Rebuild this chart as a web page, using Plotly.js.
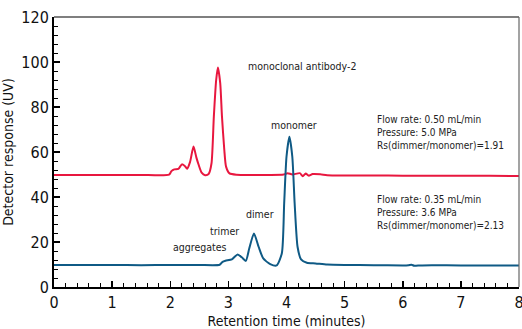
<!DOCTYPE html>
<html>
<head>
<meta charset="utf-8">
<script src="https://cdn.plot.ly/plotly-3.0.1.min.js"></script>
<style>
  html, body { margin: 0; padding: 0; background: #fff; }
  #chart { width: 522px; height: 329px; }
</style>
</head>
<body>
<div id="chart"></div>
<script>
// Chromatogram at 0.50 mL/min (offset baseline ~50)
const timeHigh = [0, 0.5, 1.0, 1.5, 1.98, 2.02, 2.07, 2.14, 2.20, 2.25, 2.29, 2.34, 2.40, 2.45, 2.49, 2.54, 2.60, 2.66, 2.71, 2.75, 2.79, 2.82, 2.86, 2.89, 2.93, 2.96, 3.02, 3.14, 3.4, 3.7, 3.95, 4.02, 4.1, 4.23, 4.28, 4.33, 4.38, 4.45, 4.58, 4.7, 5.0, 5.5, 6.0, 6.5, 7.0, 7.5, 8.0];
const respHigh = [49.8, 49.8, 49.8, 49.8, 49.9, 51.5, 52.3, 52.5, 54.5, 53.8, 52.6, 55.5, 62.4, 57.5, 54.2, 50.8, 49.7, 50.2, 55.0, 75.7, 92.0, 97.6, 90.5, 75.7, 60.9, 53.5, 50.5, 49.9, 49.8, 49.8, 50.0, 50.6, 50.0, 50.6, 49.2, 50.4, 49.5, 50.2, 50.1, 49.7, 49.6, 49.6, 49.5, 49.5, 49.4, 49.4, 49.3];

// Chromatogram at 0.35 mL/min (baseline ~10)
const timeLow = [0, 0.5, 1.0, 1.5, 2.0, 2.5, 2.85, 2.9, 2.95, 3.06, 3.16, 3.23, 3.30, 3.36, 3.44, 3.52, 3.60, 3.72, 3.83, 3.92, 3.96, 4.00, 4.05, 4.10, 4.14, 4.19, 4.25, 4.35, 4.5, 4.7, 5.0, 5.5, 6.0, 6.1, 6.15, 6.2, 6.3, 6.5, 7.0, 7.5, 8.0];
const respLow = [9.8, 9.8, 9.8, 9.7, 9.8, 9.8, 9.9, 11.2, 11.7, 12.3, 14.5, 13.2, 11.6, 17.2, 23.8, 17.9, 12.7, 10.2, 9.6, 15.0, 37.2, 57.9, 66.8, 57.9, 37.2, 17.9, 12.3, 10.8, 10.5, 10.0, 9.8, 9.7, 9.6, 9.7, 9.9, 9.4, 9.6, 9.7, 9.6, 9.6, 9.6];

// Axis ticks
const xTicks = [0, 1, 2, 3, 4, 5, 6, 7, 8];
const yTicks = [0, 20, 40, 60, 80, 100, 120];

// Text placed on the plot
const peakLabels = [
  { text: 'monoclonal antibody-2', x: 3.30, y: 98.2, anchor: 'left' },
  { text: 'monomer', x: 4.13, y: 72.2, anchor: 'center' },
  { text: 'dimer', x: 3.55, y: 32.4, anchor: 'center' },
  { text: 'trimer', x: 2.94, y: 24.9, anchor: 'center' },
  { text: 'aggregates', x: 2.51, y: 17.8, anchor: 'center' }
];
const conditionNotes = [
  { text: 'Flow rate: 0.50 mL/min<br>Pressure: 5.0 MPa<br>Rs(dimmer/monomer)=1.91', x: 5.52, y: 68.6 },
  { text: 'Flow rate: 0.35 mL/min<br>Pressure: 3.6 MPa<br>Rs(dimmer/monomer)=2.13', x: 5.52, y: 33.0 }
];

const FONT = '"DejaVu Sans Condensed", "Liberation Sans Narrow", Arial, sans-serif';

const traces = [
  {
    x: timeHigh, y: respHigh, type: 'scatter', mode: 'lines',
    line: { color: '#e8173f', width: 2, shape: 'spline', smoothing: 0.6 },
    hoverinfo: 'skip', cliponaxis: false
  },
  {
    x: timeLow, y: respLow, type: 'scatter', mode: 'lines',
    line: { color: '#0f5a85', width: 2, shape: 'spline', smoothing: 0.6 },
    hoverinfo: 'skip', cliponaxis: false
  }
];

const annotations = [];
peakLabels.forEach(p => annotations.push({
  x: p.x, y: p.y, xref: 'x', yref: 'y', text: p.text, showarrow: false,
  xanchor: p.anchor, yanchor: 'middle',
  font: { family: FONT, size: 10.5, color: '#222' }
}));
conditionNotes.forEach(n => annotations.push({
  x: n.x, y: n.y, xref: 'x', yref: 'y', text: n.text, showarrow: false,
  xanchor: 'left', yanchor: 'middle', align: 'left',
  font: { family: FONT, size: 10, color: '#222' }
}));

const layout = {
  width: 522, height: 329,
  margin: { l: 54, r: 3, t: 17, b: 42 },
  paper_bgcolor: '#fff', plot_bgcolor: '#fff',
  showlegend: false,
  xaxis: {
    range: [0, 8], tickvals: xTicks, ticktext: xTicks.map(String),
    ticklabeloverflow: 'allow',
    showgrid: false, zeroline: false,
    showline: true, linecolor: '#000', linewidth: 2,
    ticks: 'inside', ticklen: 6, tickwidth: 1.5, tickcolor: '#000',
    minor: { dtick: 0.2, ticks: 'inside', ticklen: 4, tickwidth: 1, tickcolor: '#000', showgrid: false },
    tickfont: { family: FONT, size: 16, color: '#111' },
    title: { text: 'Retention time (minutes)', font: { family: FONT, size: 14, color: '#111' }, standoff: 6 }
  },
  yaxis: {
    range: [0, 120], tickvals: yTicks, ticktext: yTicks.map(String),
    showgrid: false, zeroline: false,
    showline: true, linecolor: '#000', linewidth: 2,
    ticks: 'inside', ticklen: 6, tickwidth: 1.5, tickcolor: '#000',
    minor: { dtick: 4, ticks: 'inside', ticklen: 4, tickwidth: 1, tickcolor: '#000', showgrid: false },
    tickfont: { family: FONT, size: 16, color: '#111' },
    title: { text: 'Detector response (UV)', font: { family: FONT, size: 14, color: '#111' }, standoff: 9 }
  },
  shapes: [
    { type: 'line', xref: 'paper', yref: 'paper', x0: 0, x1: 1, y0: 1, y1: 1, line: { color: '#000', width: 1.2 } },
    { type: 'line', xref: 'paper', yref: 'paper', x0: 1, x1: 1, y0: 0, y1: 1, line: { color: '#666', width: 1.2 } }
  ],
  annotations: annotations
};

Plotly.newPlot('chart', traces, layout, { staticPlot: true, displayModeBar: false });
</script>
</body>
</html>
